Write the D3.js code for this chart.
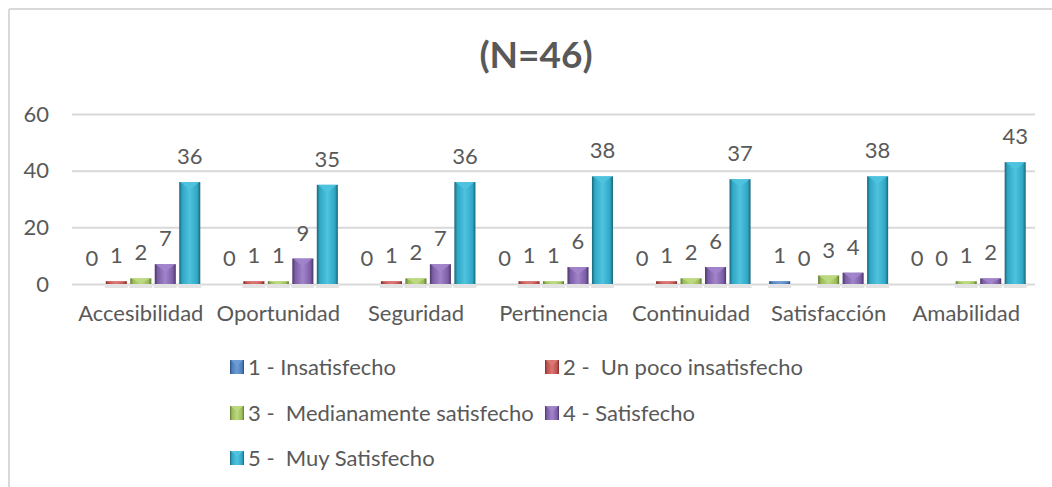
<!DOCTYPE html>
<html>
<head>
<meta charset="utf-8">
<script src="https://cdn.jsdelivr.net/npm/d3@7"></script>
<style>
  body { margin: 0; background: #fff; }
  svg text { font-family: Lato, "Open Sans", sans-serif; fill: #595959; }
</style>
</head>
<body>
<div id="chart"></div>
<script>
// categories and series
var categories = ["Accesibilidad", "Oportunidad", "Seguridad", "Pertinencia", "Continuidad", "Satisfacción", "Amabilidad"];
var seriesNames = ["1 - Insatisfecho", "2 -  Un poco insatisfecho", "3 -  Medianamente satisfecho", "4 - Satisfecho", "5 -  Muy Satisfecho"];
var insatisfecho   = [0, 0, 0, 0, 0, 1, 0];
var pocoInsatisf   = [1, 1, 1, 1, 1, 0, 0];
var medianamente   = [2, 1, 2, 1, 2, 3, 1];
var satisfecho     = [7, 9, 7, 6, 6, 4, 2];
var muySatisfecho  = [36, 35, 36, 38, 37, 38, 43];
var yTicks = [0, 20, 40, 60];
var title = "(N=46)";

var seriesValues = [insatisfecho, pocoInsatisf, medianamente, satisfecho, muySatisfecho];
var colors = [
  { base: "#4a7ebb", light: "#6f9bd4", dark: "#2c4d77" },
  { base: "#c0504d", light: "#da7673", dark: "#7a2f2d" },
  { base: "#9bbb59", light: "#bcd97f", dark: "#5f7733" },
  { base: "#7c5ea6", light: "#a284cb", dark: "#4a3567" },
  { base: "#2fa7c4", light: "#4fc3df", dark: "#1b6478" }
];

var W = 1052, H = 487;
var fontSize = "22px";
var svg = d3.select("#chart").append("svg").attr("width", W).attr("height", H);

// gradients for the bevel look
var defs = svg.append("defs");
colors.forEach(function (c, i) {
  var g = defs.append("linearGradient").attr("id", "grad" + i)
    .attr("x1", 0).attr("x2", 1).attr("y1", 0).attr("y2", 0);
  g.append("stop").attr("offset", "0").attr("stop-color", c.dark);
  g.append("stop").attr("offset", "0.14").attr("stop-color", c.base);
  g.append("stop").attr("offset", "0.5").attr("stop-color", c.light);
  g.append("stop").attr("offset", "0.86").attr("stop-color", c.base);
  g.append("stop").attr("offset", "1").attr("stop-color", c.dark);
});

// frame (chart area border, cut on the right)
svg.append("line").attr("x1", 9).attr("x2", 9).attr("y1", 9).attr("y2", H)
  .attr("stroke", "#d9d9d9").attr("stroke-width", 2);
svg.append("line").attr("x1", 9).attr("x2", W).attr("y1", 9).attr("y2", 9)
  .attr("stroke", "#d9d9d9").attr("stroke-width", 2);

// title
svg.append("text").attr("x", 536).attr("y", 68).attr("text-anchor", "middle")
  .style("font-size", "37px").style("font-weight", "bold").text(title);

var x0 = d3.scaleBand().domain(categories).range([72, 1035])
  .paddingInner(0.135).paddingOuter(0.0675);
var x1 = d3.scaleBand().domain(d3.range(5)).range([0, x0.bandwidth()])
  .paddingInner(0.14).paddingOuter(0);
var y = d3.scaleLinear().domain([0, 60]).range([284, 114]);

// gridlines + y labels
var yAxis = d3.axisLeft(y).tickValues(yTicks).tickSize(-(1035 - 72)).tickPadding(23);
var ga = svg.append("g").attr("transform", "translate(72,0)").call(yAxis);
ga.select(".domain").remove();
ga.selectAll(".tick line").attr("stroke", "#d9d9d9").attr("stroke-width", 2);
ga.selectAll(".tick text").style("font-size", fontSize).attr("fill", "#595959")
  .style("font-family", "Lato, sans-serif");

// x category labels
var xAxis = d3.axisBottom(x0).tickSize(0).tickPadding(21);
var gx = svg.append("g").attr("transform", "translate(0,284)").call(xAxis);
gx.select(".domain").remove();
gx.selectAll(".tick text").style("font-size", fontSize).attr("fill", "#595959")
  .style("font-family", "Lato, sans-serif");

// bars
var groups = svg.selectAll(".grp").data(categories).enter().append("g")
  .attr("class", "grp")
  .attr("transform", function (d) { return "translate(" + x0(d) + ",0)"; });

groups.each(function (cat, ci) {
  var g = d3.select(this);
  var vals = seriesValues.map(function (s, si) { return { s: si, v: s[ci] }; });

  // soft shadow under bars
  g.selectAll(".shadow").data(vals.filter(function (d) { return d.v > 0; })).enter()
    .append("rect")
    .attr("x", function (d) { return x1(d.s) - 1; })
    .attr("y", y(0))
    .attr("width", x1.bandwidth() + 2)
    .attr("height", 4)
    .attr("fill", "#e3e3e3");

  g.selectAll(".bar").data(vals).enter().append("rect")
    .attr("class", "bar")
    .attr("x", function (d) { return x1(d.s); })
    .attr("y", function (d) { return y(d.v); })
    .attr("width", x1.bandwidth())
    .attr("height", function (d) { return y(0) - y(d.v); })
    .attr("fill", function (d) { return "url(#grad" + d.s + ")"; });

  // top facet triangle
  g.selectAll(".facet").data(vals.filter(function (d) { return d.v > 0; })).enter()
    .append("polygon")
    .attr("points", function (d) {
      var bx = x1(d.s), bw = x1.bandwidth(), top = y(d.v);
      var th = Math.min(bw * 0.38, y(0) - top);
      return [[bx + 1, top], [bx + bw - 1, top], [bx + bw / 2, top + th]].join(" ");
    })
    .attr("fill", function (d) { return colors[d.s].light; })
    .attr("opacity", 0.9);

  // value labels
  g.selectAll(".lbl").data(vals).enter().append("text")
    .attr("x", function (d) { return x1(d.s) + x1.bandwidth() / 2; })
    .attr("y", function (d) { return y(d.v) - 18; })
    .attr("text-anchor", "middle")
    .style("font-size", fontSize)
    .text(function (d) { return d.v; });
});

// legend (two columns)
var legendPos = [[230, 367], [545, 367], [230, 413], [545, 413], [230, 458]];
var lg = svg.selectAll(".leg").data(seriesNames).enter().append("g")
  .attr("class", "leg")
  .attr("transform", function (d, i) { return "translate(" + legendPos[i][0] + "," + legendPos[i][1] + ")"; });
lg.append("rect").attr("x", 0).attr("y", -7).attr("width", 14).attr("height", 14)
  .attr("fill", function (d, i) { return "url(#grad" + i + ")"; });
lg.append("polygon").attr("points", "1,-7 13,-7 7,-1")
  .attr("fill", function (d, i) { return colors[i].light; });
lg.append("text").attr("x", 18).attr("y", 8).style("font-size", fontSize)
  .style("white-space", "pre")
  .text(function (d) { return d; });
</script>
</body>
</html>
